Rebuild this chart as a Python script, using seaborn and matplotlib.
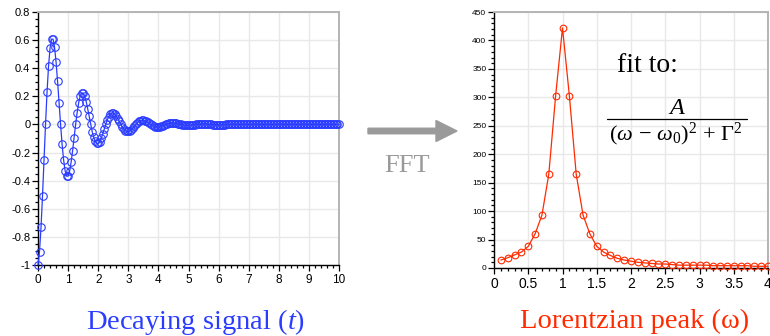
import numpy as np
import pandas as pd
import matplotlib
matplotlib.use("Agg")
import matplotlib.pyplot as plt
import seaborn as sns
from matplotlib.ticker import MultipleLocator, FixedLocator, FuncFormatter
from matplotlib.patches import FancyArrow
from matplotlib.lines import Line2D

# ---------------- data ----------------
t_first, t_last, t_count = 0.0, 10.0, 201
signal_values = [
    -1.000, -0.905, -0.732, -0.506, -0.253, 0.000, 0.229, 0.414, 0.542, 0.607,
    0.607, 0.549, 0.444, 0.307, 0.154, 0.000, -0.139, -0.251, -0.329, -0.368,
    -0.368, -0.333, -0.269, -0.186, -0.093, 0.000, 0.084, 0.152, 0.200, 0.223,
    0.223, 0.202, 0.163, 0.113, 0.057, 0.000, -0.051, -0.092, -0.121, -0.135,
    -0.135, -0.123, -0.099, -0.068, -0.034, 0.000, 0.031, 0.056, 0.074, 0.082,
    0.082, 0.074, 0.060, 0.042, 0.021, 0.000, -0.019, -0.034, -0.045, -0.050,
    -0.050, -0.045, -0.036, -0.025, -0.013, 0.000, 0.011, 0.021, 0.027, 0.030,
    0.030, 0.027, 0.022, 0.015, 0.008, 0.000, -0.007, -0.012, -0.017, -0.018,
    -0.018, -0.017, -0.013, -0.009, -0.005, 0.000, 0.004, 0.008, 0.010, 0.011,
    0.011, 0.010, 0.008, 0.006, 0.003, 0.000, -0.003, -0.005, -0.006, -0.007,
    -0.007, -0.006, -0.005, -0.003, -0.002, 0.000, 0.002, 0.003, 0.004, 0.004,
    0.004, 0.004, 0.003, 0.002, 0.001, 0.000, -0.001, -0.002, -0.002, -0.002,
    -0.002, -0.002, -0.002, -0.001, -0.001, 0.000, 0.001, 0.001, 0.001, 0.001,
    0.001, 0.001, 0.001, 0.001, 0.000, 0.000, 0.000, 0.000, 0.000, 0.000,
    0.000, 0.000, 0.000, 0.000, 0.000, 0.000, 0.000, 0.000, 0.000, 0.000,
    0.000, 0.000, 0.000, 0.000, 0.000, 0.000, 0.000, 0.000, 0.000, 0.000,
    0.000, 0.000, 0.000, 0.000, 0.000, 0.000, 0.000, 0.000, 0.000, 0.000,
    0.000, 0.000, 0.000, 0.000, 0.000, 0.000, 0.000, 0.000, 0.000, 0.000,
    0.000, 0.000, 0.000, 0.000, 0.000, 0.000, 0.000, 0.000, 0.000, 0.000,
    0.000, 0.000, 0.000, 0.000, 0.000, 0.000, 0.000, 0.000, 0.000, 0.000,
    0.000,
]
time_values = np.linspace(t_first, t_last, t_count)

omega_values = [0.1, 0.2, 0.3, 0.4, 0.5, 0.6, 0.7, 0.8, 0.9, 1.0,
                1.1, 1.2, 1.3, 1.4, 1.5, 1.6, 1.7, 1.8, 1.9, 2.0,
                2.1, 2.2, 2.3, 2.4, 2.5, 2.6, 2.7, 2.8, 2.9, 3.0,
                3.1, 3.2, 3.3, 3.4, 3.5, 3.6, 3.7, 3.8, 3.9, 4.0]
peak_values = [14, 18, 23, 28, 38, 60, 93, 165, 303, 422,
               303, 165, 93, 60, 38, 28, 22, 17, 14, 12,
               10, 9, 8, 7, 7, 6, 5, 5, 5, 5,
               5, 4, 4, 4, 4, 4, 4, 3, 3, 3]

left_xticks = [0, 1, 2, 3, 4, 5, 6, 7, 8, 9, 10]
left_yticks = [-1, -0.8, -0.6, -0.4, -0.2, 0, 0.2, 0.4, 0.6, 0.8]
right_xticks = [0, 0.5, 1, 1.5, 2, 2.5, 3, 3.5, 4]
right_yticks = [0, 50, 100, 150, 200, 250, 300, 350, 400, 450]

left_title = r"Decaying signal ($\mathit{t}$)"
right_title = "Lorentzian peak (ω)"
arrow_label = "FFT"
fit_label = "fit to:"
fit_numerator = r"$\mathit{A}$"
fit_denominator = r"$(\omega\,-\,\omega_0)^2\,+\,\Gamma^2$"

# ---------------- style ----------------
sns.set_theme(style="whitegrid")
plt.rcParams["font.family"] = ["Liberation Sans", "DejaVu Sans"]
plt.rcParams["axes.unicode_minus"] = False
plt.rcParams["mathtext.fontset"] = "custom"
plt.rcParams["mathtext.rm"] = "Liberation Serif"
plt.rcParams["mathtext.it"] = "Liberation Serif:italic"
plt.rcParams["mathtext.bf"] = "Liberation Serif:bold"

BLUE = "#2a3cff"
RED = "#ff2a00"
GRAY = "#9a9a9a"

W, H = 770, 336
fig = plt.figure(figsize=(W / 100, H / 100), dpi=100)
fig.patch.set_facecolor("white")


def px_axes(left, top, right, bottom):
    return fig.add_axes([left / W, 1 - bottom / H, (right - left) / W, (bottom - top) / H])


ax1 = px_axes(38, 12, 339, 265)
ax2 = px_axes(494, 12, 768, 268)

df1 = pd.DataFrame({"t": time_values, "y": signal_values})
df2 = pd.DataFrame({"w": omega_values, "p": peak_values})

sns.lineplot(data=df1, x="t", y="y", ax=ax1, color=BLUE, linewidth=0.9,
             marker="o", markersize=5.4, markerfacecolor="none",
             markeredgecolor=BLUE, markeredgewidth=0.8, estimator=None, sort=False,
             clip_on=False, zorder=5)
sns.lineplot(data=df2, x="w", y="p", ax=ax2, color=RED, linewidth=0.9,
             marker="o", markersize=4.8, markerfacecolor="none",
             markeredgecolor=RED, markeredgewidth=0.8, estimator=None, sort=False,
             clip_on=False, zorder=5)

fmt = FuncFormatter(lambda v, p: f"{v:g}")


def style_axes(ax, xticks, yticks, xminor, yminor, xlabsize, ylabsize):
    ax.set_facecolor("white")
    ax.set_xlim(xticks[0], xticks[-1])
    ax.set_ylim(yticks[0], yticks[-1])
    ax.xaxis.set_major_locator(FixedLocator(xticks))
    ax.yaxis.set_major_locator(FixedLocator(yticks))
    ax.xaxis.set_minor_locator(MultipleLocator(xminor))
    ax.yaxis.set_minor_locator(MultipleLocator(yminor))
    ax.xaxis.set_major_formatter(fmt)
    ax.yaxis.set_major_formatter(fmt)
    ax.set_xlabel("")
    ax.set_ylabel("")
    ax.grid(True, which="major", color="#e8e8e8", linewidth=1.0)
    ax.grid(False, which="minor")
    for s in ("left", "bottom"):
        ax.spines[s].set_color("black")
        ax.spines[s].set_linewidth(1.0)
    for s in ("top", "right"):
        ax.spines[s].set_color("#b4b4b4")
        ax.spines[s].set_linewidth(1.4)
    ax.tick_params(which="both", direction="out", color="black", width=0.9,
                   bottom=True, left=True, top=False, right=False)
    ax.tick_params(which="major", length=4.5)
    ax.tick_params(which="minor", length=2.5)
    ax.tick_params(axis="x", labelsize=xlabsize, pad=2, labelcolor="black")
    ax.tick_params(axis="y", labelsize=ylabsize, pad=1, labelcolor="black")


style_axes(ax1, left_xticks, left_yticks, 0.2, 0.05, 8.5, 8)
style_axes(ax2, right_xticks, right_yticks, 0.1, 10, 10, 6)

# ---------------- annotations ----------------
fig.text(196 / W, 1 - 329 / H, left_title, color=BLUE, fontsize=20.5,
         family="Liberation Serif", ha="center", va="baseline")
fig.text(635 / W, 1 - 328 / H, right_title, color=RED, fontsize=20.5,
         family="Liberation Serif", ha="center", va="baseline")

arrow = FancyArrow(3.68, (H - 131) / 100, 0.89, 0, width=0.055,
                   head_width=0.21, head_length=0.21, length_includes_head=True,
                   color=GRAY, transform=fig.dpi_scale_trans)
fig.add_artist(arrow)
fig.text(407 / W, 1 - 172 / H, arrow_label, color=GRAY, fontsize=19,
         family="Liberation Serif", ha="center", va="baseline")

fig.text(617 / W, 1 - 72 / H, fit_label, color="black", fontsize=20,
         family="Liberation Serif", ha="left", va="baseline")
fig.text(677 / W, 1 - 114 / H, fit_numerator, color="black", fontsize=17.5,
         ha="center", va="baseline")
fig.add_artist(Line2D([607 / W, 747 / W], [1 - 118.5 / H, 1 - 118.5 / H],
                      color="black", linewidth=0.9, transform=fig.transFigure))
fig.text(676 / W, 1 - 140 / H, fit_denominator, color="black", fontsize=16,
         ha="center", va="baseline")

fig.savefig("out.png", dpi=100, facecolor="white")
